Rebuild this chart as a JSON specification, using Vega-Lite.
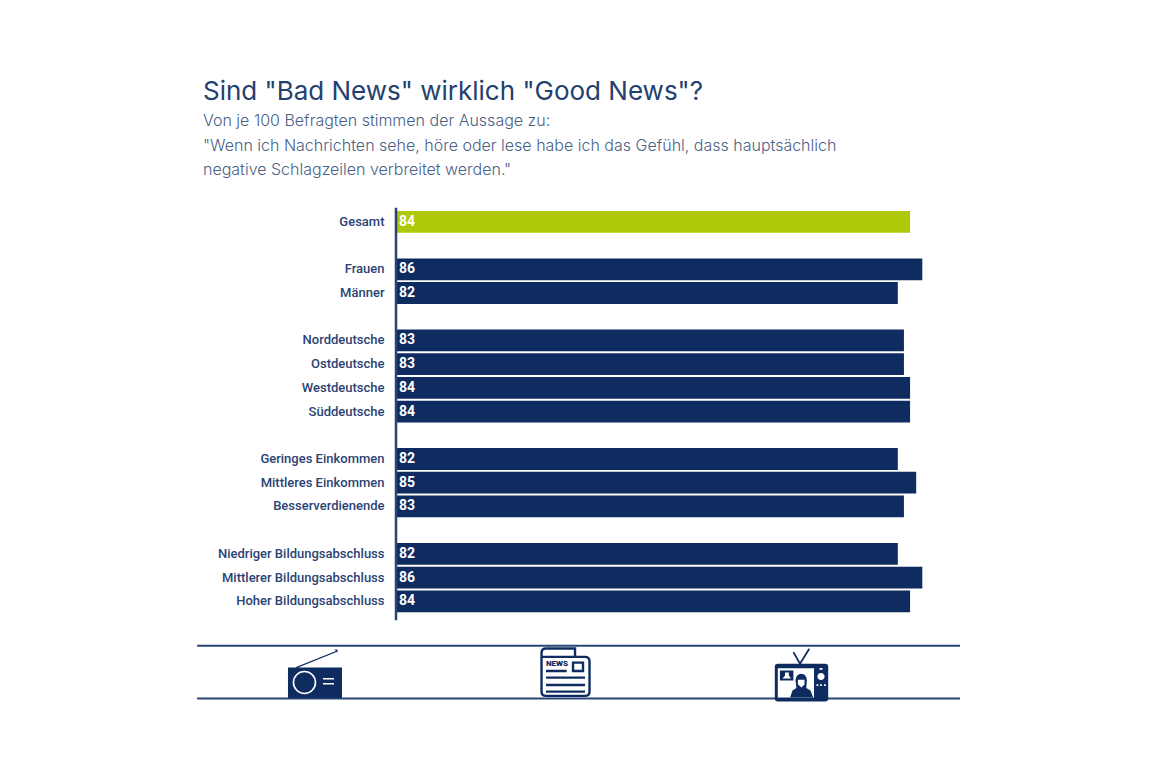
{
"$schema":"https://vega.github.io/schema/vega-lite/v6.json",
"autosize":{"type":"none"},
"padding":{"left":396,"top":210,"right":192,"bottom":60},
"width":564,"height":498,
"background":"white",
"view":{"stroke":null},
"title":{"text":"Sind \"Bad News\" wirklich \"Good News\"?","subtitle":["Von je 100 Befragten stimmen der Aussage zu:","\"Wenn ich Nachrichten sehe, höre oder lese habe ich das Gefühl, dass hauptsächlich","negative Schlagzeilen verbreitet werden.\""],"anchor":"start","frame":"group","dx":-193,"offset":28,"font":"Inter","fontSize":26,"fontWeight":400,"color":"#24406f","subtitleFont":"Inter","subtitleFontSize":16,"subtitleFontWeight":300,"subtitleColor":"#4a5f87","subtitleLineHeight":24.5,"subtitlePadding":8},
"datasets":{
"rows":[
{"label":"Gesamt","value":84,"group":"Gesamt"},
{"label":"Frauen","value":86,"group":"Teilgruppe"},
{"label":"Männer","value":82,"group":"Teilgruppe"},
{"label":"Norddeutsche","value":83,"group":"Teilgruppe"},
{"label":"Ostdeutsche","value":83,"group":"Teilgruppe"},
{"label":"Westdeutsche","value":84,"group":"Teilgruppe"},
{"label":"Süddeutsche","value":84,"group":"Teilgruppe"},
{"label":"Geringes Einkommen","value":82,"group":"Teilgruppe"},
{"label":"Mittleres Einkommen","value":85,"group":"Teilgruppe"},
{"label":"Besserverdienende","value":83,"group":"Teilgruppe"},
{"label":"Niedriger Bildungsabschluss","value":82,"group":"Teilgruppe"},
{"label":"Mittlerer Bildungsabschluss","value":86,"group":"Teilgruppe"},
{"label":"Hoher Bildungsabschluss","value":84,"group":"Teilgruppe"}
]},
"layer":[
{"data":{"name":"rows"},"mark":{"type":"bar"},
"encoding":{
"y":{"field":"label","type":"nominal","title":null,"scale":{"domain":["Gesamt"," ","Frauen","Männer","  ","Norddeutsche","Ostdeutsche","Westdeutsche","Süddeutsche","   ","Geringes Einkommen","Mittleres Einkommen","Besserverdienende","    ","Niedriger Bildungsabschluss","Mittlerer Bildungsabschluss","Hoher Bildungsabschluss","     ","      ","       ","        "],"paddingInner":0.08,"paddingOuter":0.04},
"axis":{"domain":false,"ticks":false,"grid":false,"labelPadding":12,"labelFont":"Roboto","labelFontSize":13,"labelFontWeight":500,"labelColor":"#2b4374","labelLimit":300}},
"x":{"field":"value","type":"quantitative","axis":null,"scale":{"domain":[0,92.16],"nice":false,"zero":false}},
"color":{"field":"group","type":"nominal","legend":null,"scale":{"domain":["Gesamt","Teilgruppe"],"range":["#afc90a","#0f2c60"]}}}},
{"data":{"name":"rows"},"mark":{"type":"text","align":"left","dx":3,"font":"Roboto","fontSize":14,"fontWeight":700,"color":"white"},
"encoding":{
"y":{"field":"label","type":"nominal","axis":null,"scale":{"domain":["Gesamt"," ","Frauen","Männer","  ","Norddeutsche","Ostdeutsche","Westdeutsche","Süddeutsche","   ","Geringes Einkommen","Mittleres Einkommen","Besserverdienende","    ","Niedriger Bildungsabschluss","Mittlerer Bildungsabschluss","Hoher Bildungsabschluss","     ","      ","       ","        "],"paddingInner":0.08,"paddingOuter":0.04}},
"x":{"datum":0,"type":"quantitative","axis":null},
"text":{"field":"value","type":"quantitative"}}},
{"data":{"values":[{"x":0,"y":-0.1,"y2":17.3}]},"mark":{"type":"rule","stroke":"#2a4476","strokeWidth":2.5},
"encoding":{"x":{"field":"x","type":"quantitative","axis":null},"y":{"field":"y","type":"quantitative","axis":null,"scale":{"domain":[0,21],"reverse":true,"nice":false,"zero":false}},"y2":{"field":"y2"}}},
{"data":{"values":[{"x":-32.5,"x2":92.16,"y":18.37},{"x":-32.5,"x2":92.16,"y":20.6}]},"mark":{"type":"rule","stroke":"#2a4476","strokeWidth":2},
"encoding":{"x":{"field":"x","type":"quantitative","axis":null},"x2":{"field":"x2"},"y":{"field":"y","type":"quantitative","axis":null,"scale":{"domain":[0,21],"reverse":true,"nice":false,"zero":false}}}},
{"data":{"values":[{"icon":"Radio","x":-13.24,"y":19.63}]},"mark":{"type":"point","filled":true,"opacity":1,"size":3600,"color":"#0f2c60","shape":"M-0.9 -0.267 L0.9 -0.267 L0.9 0.75 L-0.9 0.75 Z M-0.633 -0.283 L0.7 -0.82 L0.65 -0.87 L0.75 -0.87 L0.75 -0.77 L0.72 -0.78 L-0.6 -0.25 Z"},
"encoding":{"x":{"field":"x","type":"quantitative","axis":null},"y":{"field":"y","type":"quantitative","axis":null,"scale":{"domain":[0,21],"reverse":true,"nice":false,"zero":false}}}},
{"data":{"values":[{"icon":"Radio","x":-13.24,"y":19.63}]},"mark":{"type":"point","filled":false,"opacity":1,"size":3600,"stroke":"white","strokeWidth":1.6,"shape":"M-0.717 0.233 A0.367 0.367 0 1 1 0.017 0.233 A0.367 0.367 0 1 1 -0.717 0.233 Z M0.267 0.11 L0.633 0.11 M0.267 0.277 L0.633 0.277"},
"encoding":{"x":{"field":"x","type":"quantitative","axis":null},"y":{"field":"y","type":"quantitative","axis":null,"scale":{"domain":[0,21],"reverse":true,"nice":false,"zero":false}}}},
{"data":{"values":[{"icon":"Zeitung","x":27.7,"y":19.5}]},"mark":{"type":"point","filled":false,"opacity":1,"size":3600,"fill":"white","stroke":"#0f2c60","strokeWidth":2.4,"shape":"M-0.8 -0.65 Q-0.8 -0.8 -0.65 -0.8 L0.317 -0.8 L0.317 -0.517 L0.65 -0.517 Q0.8 -0.517 0.8 -0.367 L0.8 0.633 Q0.8 0.783 0.65 0.783 L-0.65 0.783 Q-0.8 0.783 -0.8 0.633 Z M-0.8 -0.517 L0.317 -0.517 M0.25 -0.327 L0.583 -0.327 L0.583 -0.05 L0.25 -0.05 Z M-0.65 -0.05 L0.04 -0.05 M-0.65 0.173 L0.65 0.173 M-0.65 0.417 L0.65 0.417 M-0.65 0.64 L0.65 0.64"},
"encoding":{"x":{"field":"x","type":"quantitative","axis":null},"y":{"field":"y","type":"quantitative","axis":null,"scale":{"domain":[0,21],"reverse":true,"nice":false,"zero":false}}}},
{"data":{"values":[{"t":"NEWS","x":26.3,"y":19.16}]},"mark":{"type":"text","font":"Roboto","fontSize":8,"fontWeight":900,"color":"#0f2c60"},
"encoding":{"text":{"field":"t"},"x":{"field":"x","type":"quantitative","axis":null},"y":{"field":"y","type":"quantitative","axis":null,"scale":{"domain":[0,21],"reverse":true,"nice":false,"zero":false}}}},
{"data":{"values":[{"icon":"TV","x":66.26,"y":19.63}]},"mark":{"type":"point","filled":false,"opacity":1,"size":3600,"stroke":"#0f2c60","strokeWidth":1.8,"shape":"M-0.27 -0.78 L-0.05 -0.39 L0.26 -0.89"},
"encoding":{"x":{"field":"x","type":"quantitative","axis":null},"y":{"field":"y","type":"quantitative","axis":null,"scale":{"domain":[0,21],"reverse":true,"nice":false,"zero":false}}}},
{"data":{"values":[{"icon":"TV","x":66.26,"y":19.63}]},"mark":{"type":"point","filled":true,"opacity":1,"size":3600,"color":"#0f2c60","shape":"M-0.89 -0.29 Q-0.89 -0.39 -0.79 -0.39 L0.79 -0.39 Q0.89 -0.39 0.89 -0.29 L0.89 0.767 Q0.89 0.867 0.79 0.867 L-0.79 0.867 Q-0.89 0.867 -0.89 0.767 Z"},
"encoding":{"x":{"field":"x","type":"quantitative","axis":null},"y":{"field":"y","type":"quantitative","axis":null,"scale":{"domain":[0,21],"reverse":true,"nice":false,"zero":false}}}},
{"data":{"values":[{"icon":"TV","x":66.26,"y":19.63}]},"mark":{"type":"point","filled":true,"opacity":1,"size":3600,"color":"white","shape":"M-0.79 -0.243 L0.417 -0.243 L0.417 0.733 L-0.79 0.733 Z M0.6 -0.25 L0.7 -0.25 L0.7 -0.19 L0.6 -0.19 Z M0.53 0.033 A0.12 0.12 0 1 1 0.77 0.033 A0.12 0.12 0 1 1 0.53 0.033 Z M0.5 0.29 L0.56 0.29 L0.56 0.35 L0.5 0.35 Z M0.62 0.29 L0.68 0.29 L0.68 0.35 L0.62 0.35 Z M0.75 0.29 L0.81 0.29 L0.81 0.35 L0.75 0.35 Z"},
"encoding":{"x":{"field":"x","type":"quantitative","axis":null},"y":{"field":"y","type":"quantitative","axis":null,"scale":{"domain":[0,21],"reverse":true,"nice":false,"zero":false}}}},
{"data":{"values":[{"icon":"TV","x":66.26,"y":19.63}]},"mark":{"type":"point","filled":true,"opacity":1,"size":3600,"color":"#0f2c60","shape":"M-0.38 0.733 L-0.3 0.5 L-0.17 0.42 L-0.2 0.15 Q-0.18 -0.05 -0.01 -0.06 Q0.17 -0.05 0.18 0.15 L0.16 0.42 L0.3 0.5 L0.39 0.733 Z M-0.72 -0.17 L-0.27 -0.17 L-0.27 0.17 L-0.72 0.17 Z"},
"encoding":{"x":{"field":"x","type":"quantitative","axis":null},"y":{"field":"y","type":"quantitative","axis":null,"scale":{"domain":[0,21],"reverse":true,"nice":false,"zero":false}}}},
{"data":{"values":[{"icon":"TV","x":66.26,"y":19.63}]},"mark":{"type":"point","filled":true,"opacity":1,"size":3600,"color":"white","shape":"M-0.12 0.14 L0.1 0.14 L0.1 0.3 L0 0.4 L-0.12 0.3 Z M-0.55 -0.1 L-0.42 -0.1 L-0.42 0 L-0.35 0.1 L-0.63 0.1 L-0.55 0 Z"},
"encoding":{"x":{"field":"x","type":"quantitative","axis":null},"y":{"field":"y","type":"quantitative","axis":null,"scale":{"domain":[0,21],"reverse":true,"nice":false,"zero":false}}}}
],
"resolve":{"scale":{"y":"independent"}}
}
